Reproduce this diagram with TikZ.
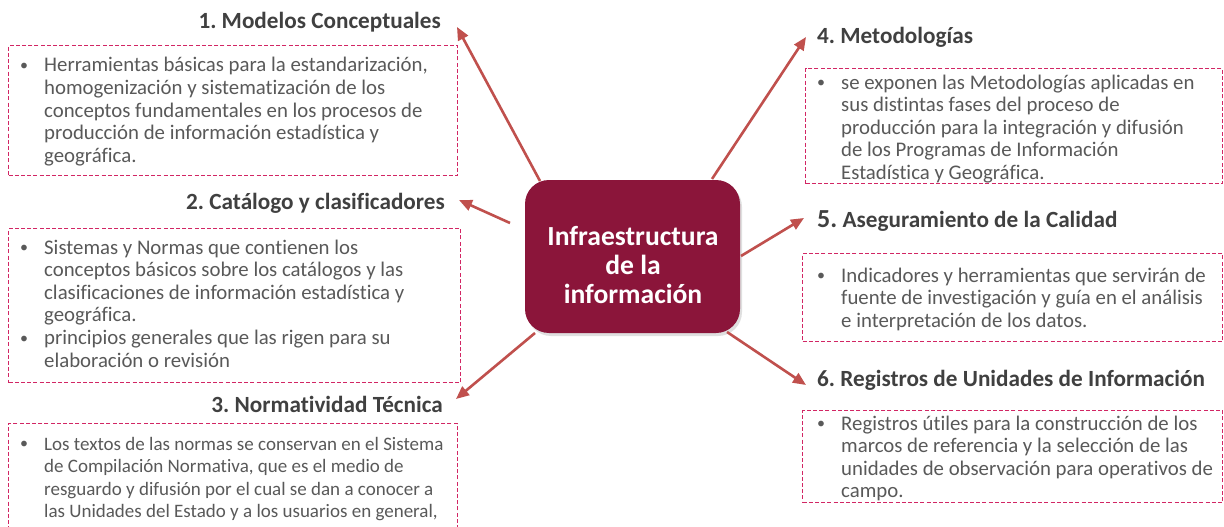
\documentclass[tikz,border=0pt]{standalone}
\usepackage{fontspec}
\setmainfont[Ligatures=NoCommon]{Carlito}
\usetikzlibrary{arrows.meta,shadows}
\definecolor{maroon}{RGB}{139,21,58}
\definecolor{arrowred}{RGB}{192,80,77}
\definecolor{dashpink}{RGB}{210,38,100}
\definecolor{bodygray}{RGB}{89,89,89}
\definecolor{titlegray}{RGB}{64,64,64}
\newcommand{\bl}{\makebox[24pt][l]{\raisebox{1.2pt}{\fontsize{16}{16}\selectfont •}}}
\tikzset{
  dbox/.style={draw=dashpink, line width=1.3pt, dash pattern=on 4pt off 2.2pt, anchor=north west, inner sep=0pt},
  body/.style={anchor=base west, inner sep=0pt, text=bodygray, font=\fontsize{20.8}{22.6}\selectfont\frenchspacing},
  ttl/.style={inner sep=0pt, text=titlegray, font=\fontsize{23.2}{25}\selectfont\bfseries\frenchspacing},
  conn/.style={draw=arrowred, line width=2.6pt, -{Triangle[length=13pt,width=11pt]}},
  centre/.style={fill=maroon, rounded corners=24pt, minimum width=215pt, minimum height=153pt, inner sep=0pt,
    drop shadow={shadow xshift=2pt, shadow yshift=-3pt, opacity=0.25}},
  ctext/.style={inner sep=0pt, text=white, align=center, font=\fontsize{27.6}{29}\selectfont\bfseries},
}
\begin{document}
\begin{tikzpicture}[x=1pt,y=-1pt]
\clip (0,0) rectangle (1224,527);
\fill[white] (0,0) rectangle (1224,527);

% centre
\node[centre] (c) at (632.5,256.5) {};
\node[ctext] (ct) at (633,265.5) {Infraestructura\\de la\\información};

% left titles
\node[ttl, anchor=east] (t1) at (441,22) {1. Modelos Conceptuales};
\node[ttl, anchor=east] (t2) at (445,203) {2. Catálogo y clasificadores};
\node[ttl, anchor=east] (t3) at (443,404) {3. Normatividad Técnica};
% right titles
\node[ttl, anchor=west] (t4) at (817,37) {4. Metodologías};
\node[ttl, anchor=west] (t5) at (817,221) {{\fontsize{26}{25}\selectfont 5.} Aseguramiento de la Calidad};
\node[ttl, anchor=west] (t6) at (817,380) {6. Registros de Unidades de Información};

% boxes
\node[dbox, minimum width=449pt, minimum height=130pt] (b1) at (8,45) {};
\node[dbox, minimum width=452pt, minimum height=154pt] (b2) at (8,228) {};
\node[dbox, minimum width=449pt, minimum height=140pt] (b3) at (8,423) {};
\node[dbox, minimum width=417pt, minimum height=115pt] (b4) at (805,68) {};
\node[dbox, minimum width=420pt, minimum height=88pt] (b5) at (802,253) {};
\node[dbox, minimum width=420pt, minimum height=92pt] (b6) at (802,410) {};

% box texts
\node[body] (x1) at (20,72) {\begin{tabular}[t]{@{}l@{}l@{}}
\bl & Herramientas básicas para la estandarización,\\
 & homogenización y sistematización de los\\
 & conceptos fundamentales en los procesos de\\
 & producción de información estadística y\\
 & geográfica.\end{tabular}};

\node[body] (x2) at (20,254) {\begin{tabular}[t]{@{}l@{}l@{}}
\bl & Sistemas y Normas que contienen los\\
 & conceptos básicos sobre los catálogos y las\\
 & clasificaciones de información estadística y\\
 & geográfica.\\
\bl & principios generales que las rigen para su\\
 & elaboración o revisión\end{tabular}};

\node[body, font=\fontsize{19}{22.6}\selectfont\frenchspacing] (x3) at (20,450) {\begin{tabular}[t]{@{}l@{}l@{}}
\bl & Los textos de las normas se conservan en el Sistema\\
 & de Compilación Normativa, que es el medio de\\
 & resguardo y difusión por el cual se dan a conocer a\\
 & las Unidades del Estado y a los usuarios en general,\end{tabular}};

\node[body] (x4) at (817,89) {\begin{tabular}[t]{@{}l@{}l@{}}
\bl & se exponen las Metodologías aplicadas en\\
 & sus distintas fases del proceso de\\
 & producción para la integración y difusión\\
 & de los Programas de Información\\
 & Estadística y Geográfica.\end{tabular}};

\node[body] (x5) at (817,282) {\begin{tabular}[t]{@{}l@{}l@{}}
\bl & Indicadores y herramientas que servirán de\\
 & fuente de investigación y guía en el análisis\\
 & e interpretación de los datos.\end{tabular}};

\node[body] (x6) at (817,430) {\begin{tabular}[t]{@{}l@{}l@{}}
\bl & Registros útiles para la construcción de los\\
 & marcos de referencia y la selección de las\\
 & unidades de observación para operativos de\\
 & campo.\end{tabular}};

% connector ends
\coordinate (s1) at (540,181);
\coordinate (e1) at (457,27);
\coordinate (s2) at (510,223);
\coordinate (e2) at (459,200);
\coordinate (s3) at (535,333);
\coordinate (e3) at (456,399);
\coordinate (s4) at (712,179);
\coordinate (e4) at (806,37);
\coordinate (s5) at (741,256);
\coordinate (e5) at (804,218);
\coordinate (s6) at (727,332);
\coordinate (e6) at (806,385);

\draw[conn] (s1) -- (e1);
\draw[conn] (s2) -- (e2);
\draw[conn] (s3) -- (e3);
\draw[conn] (s4) -- (e4);
\draw[conn] (s5) -- (e5);
\draw[conn] (s6) -- (e6);
\end{tikzpicture}
\end{document}
